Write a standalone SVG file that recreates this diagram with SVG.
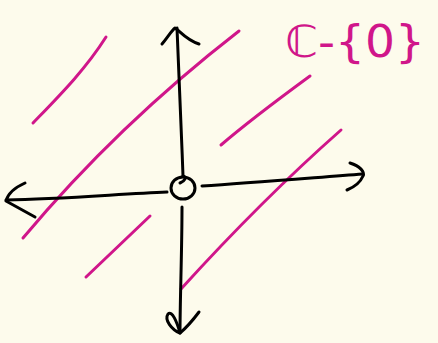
<svg xmlns="http://www.w3.org/2000/svg" width="438" height="343" viewBox="0 0 438 343">
<style>
.ink{fill:none;stroke:#000;stroke-width:3;stroke-linecap:round;stroke-linejoin:round}
.pk{fill:none;stroke:#D0168A;stroke-width:3;stroke-linecap:round;stroke-linejoin:round}
.lbl{fill:#D0168A;font-family:"DejaVu Sans",sans-serif;font-size:44px}
</style>
<rect width="438" height="343" fill="#FDFBEC"/>
<g id="lines">
<path class="pk" d="M33,123 C60,95 85,70 106,37"/>
<path class="pk" d="M23,238 C80,170 150,100 239,31"/>
<path class="pk" d="M221,145 C250,120 280,98 310,76"/>
<path class="pk" d="M86,277 L150,216"/>
<path class="pk" d="M181,289 C230,235 290,175 341,130"/>
</g>
<g id="axes">
<path class="ink" d="M177,28 C178,60 181,120 183,176"/>
<path class="ink" d="M182,207 C182,250 180,300 180,333"/>
<path class="ink" d="M162,44 C167,38 172,30 175,28 C180,31 186,40 199,44"/>
<path class="ink" d="M199,312 C193,320 186,328 180,333 C172,330 164,320 168,314 C172,310 177,322 180,333"/>
<path class="ink" d="M6,200 C60,199 120,194 167,192"/>
<path class="ink" d="M202,186 C250,183 310,178 363,174"/>
<path class="ink" d="M25,183 C16,187 8,193 6,201 L35,217"/>
<path class="ink" d="M350,163 C360,166 365,172 363,176 C360,183 352,188 347,190"/>
<ellipse class="ink" cx="183" cy="188" rx="12" ry="11"/>
<path class="ink" d="M183,176 C187,177 185,181 180,183"/>
</g>
<g id="label">
<text class="lbl" x="285" y="57" textLength="140" lengthAdjust="spacingAndGlyphs">ℂ-{0}</text>
</g>
</svg>
